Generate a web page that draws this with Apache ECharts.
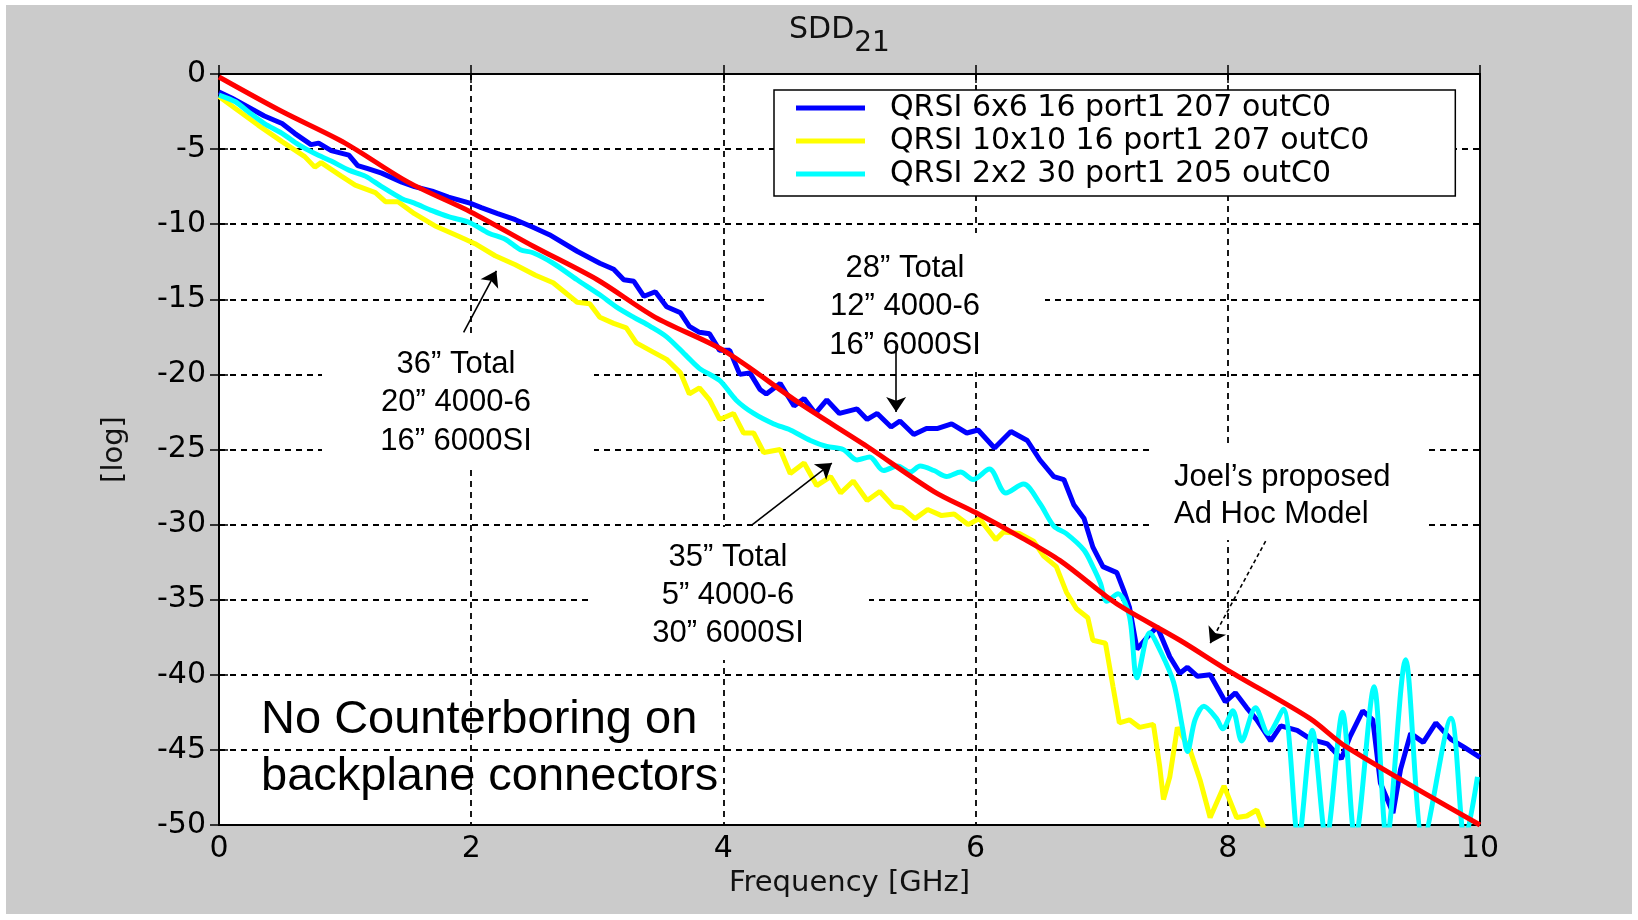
<!DOCTYPE html>
<html>
<head>
<meta charset="utf-8">
<title>SDD21</title>
<script src="https://cdn.jsdelivr.net/npm/echarts@6/dist/echarts.min.js"></script>
<style>
html, body { margin: 0; padding: 0; background: #fff; }
#chart { width: 1638px; height: 920px; }
</style>
</head>
<body>
<div id="chart"></div>
<script>
/* measured curves, frequency in GHz, loss in dB */
var seriesNames = ['QRSI 6x6 16 port1 207 outC0', 'QRSI 10x10 16 port1 207 outC0', 'QRSI 2x2 30 port1 205 outC0'];
var xTicks = [0, 2, 4, 6, 8, 10];
var yTicks = [-50, -45, -40, -35, -30, -25, -20, -15, -10, -5, 0];

var blueFreq = [0.00,0.10,0.23,0.36,0.50,0.60,0.73,0.79,0.89,1.03,1.10,1.18,1.29,1.45,1.55,1.69,1.82,1.99,2.08,2.21,2.35,2.49,2.62,2.84,3.02,3.13,3.21,3.29,3.37,3.46,3.55,3.66,3.73,3.81,3.89,3.97,4.05,4.13,4.21,4.29,4.34,4.45,4.56,4.64,4.73,4.82,4.92,5.06,5.14,5.22,5.33,5.40,5.51,5.61,5.70,5.81,5.93,6.02,6.15,6.28,6.41,6.51,6.62,6.70,6.78,6.86,6.93,7.01,7.12,7.18,7.22,7.28,7.36,7.44,7.54,7.62,7.68,7.76,7.86,7.98,8.06,8.15,8.23,8.34,8.42,8.55,8.66,8.79,8.90,8.97,9.07,9.15,9.21,9.31,9.37,9.45,9.55,9.65,9.77,9.87,10.0];
var blueLoss = [-1.2,-1.6,-2.2,-2.8,-3.3,-3.95,-4.7,-4.6,-5.1,-5.4,-6.1,-6.3,-6.6,-7.2,-7.5,-7.8,-8.2,-8.6,-8.9,-9.3,-9.7,-10.2,-10.7,-11.8,-12.6,-13.0,-13.7,-13.8,-14.8,-14.5,-15.5,-15.9,-16.8,-17.2,-17.3,-18.4,-18.4,-20.0,-19.9,-21.0,-21.3,-20.6,-22.1,-21.6,-22.6,-21.7,-22.6,-22.3,-23.0,-22.6,-23.5,-23.1,-24.0,-23.6,-23.6,-23.3,-23.9,-23.7,-24.9,-23.8,-24.4,-25.7,-26.8,-27.0,-28.7,-29.6,-31.5,-32.8,-33.2,-34.5,-35.5,-38.3,-37.5,-36.8,-38.8,-39.9,-39.5,-40.1,-40.0,-41.8,-41.2,-42.2,-43.0,-44.4,-43.4,-43.7,-44.3,-44.6,-45.6,-44.1,-42.4,-43.0,-47.2,-49.2,-46.3,-43.9,-44.5,-43.2,-44.3,-44.8,-45.5];

var yellowFreq = [0.00,0.13,0.31,0.50,0.68,0.76,0.81,0.97,1.08,1.24,1.32,1.42,1.55,1.71,1.90,2.03,2.19,2.35,2.51,2.65,2.84,2.94,3.02,3.13,3.23,3.31,3.44,3.55,3.66,3.73,3.81,3.89,3.97,4.08,4.16,4.24,4.32,4.45,4.53,4.64,4.74,4.85,4.93,5.03,5.14,5.24,5.35,5.42,5.52,5.62,5.73,5.83,5.94,6.03,6.16,6.22,6.35,6.46,6.54,6.64,6.72,6.80,6.89,6.93,7.03,7.09,7.14,7.22,7.30,7.41,7.46,7.49,7.54,7.60,7.70,7.78,7.86,7.97,8.07,8.15,8.23,8.30,8.34];
var yellowLoss = [-1.5,-2.3,-3.4,-4.5,-5.5,-6.2,-5.9,-6.8,-7.4,-7.9,-8.5,-8.5,-9.3,-10.1,-10.8,-11.3,-12.1,-12.7,-13.4,-13.9,-15.2,-15.3,-16.2,-16.6,-16.9,-17.9,-18.5,-19.0,-19.9,-21.3,-20.9,-21.7,-23.0,-22.6,-23.9,-23.9,-25.2,-25.0,-26.6,-25.9,-27.4,-26.8,-27.9,-27.1,-28.4,-27.8,-28.8,-28.9,-29.6,-29.0,-29.4,-29.3,-30.0,-29.6,-31.0,-30.5,-30.6,-31.1,-32.1,-32.8,-34.5,-35.6,-36.2,-37.7,-37.9,-40.8,-43.2,-43.0,-43.5,-43.3,-46.1,-48.3,-46.8,-43.5,-45.0,-47.0,-49.5,-47.4,-49.5,-49.4,-49.0,-50.5,-51.5];

var cyanFreq = [0.00,0.13,0.23,0.36,0.50,0.63,0.76,0.89,1.03,1.16,1.29,1.45,1.55,1.69,1.82,1.99,2.14,2.27,2.39,2.49,2.65,2.84,3.02,3.15,3.29,3.42,3.55,3.71,3.81,3.97,4.10,4.24,4.40,4.53,4.69,4.82,4.95,5.06,5.16,5.27,5.38,5.48,5.56,5.67,5.77,5.88,5.98,6.11,6.24,6.38,6.51,6.62,6.72,6.86,6.93,6.99,7.04,7.13,7.22,7.28,7.38,7.47,7.57,7.64,7.68,7.74,7.81,7.91,7.96,8.04,8.11,8.22,8.32,8.44,8.56,8.67,8.78,8.91,9.01,9.16,9.26,9.41,9.55,9.77,9.88,9.98];
var cyanLoss = [-1.4,-1.85,-2.5,-3.3,-3.95,-4.7,-5.3,-5.8,-6.4,-6.8,-7.5,-8.3,-8.6,-9.1,-9.5,-9.9,-10.6,-11.0,-11.7,-11.9,-12.6,-13.7,-14.7,-15.5,-16.2,-16.8,-17.5,-18.8,-19.6,-20.4,-21.7,-22.6,-23.3,-23.7,-24.4,-24.8,-25.0,-25.7,-25.5,-26.4,-26.1,-26.5,-26.1,-26.4,-26.8,-26.5,-27.0,-26.3,-27.9,-27.3,-28.6,-30.1,-30.6,-31.7,-32.8,-33.9,-35.1,-34.6,-36.1,-40.2,-37.2,-38.5,-40.5,-43.5,-45.1,-43.0,-42.1,-42.9,-43.6,-42.4,-44.4,-42.2,-43.9,-42.3,-51,-43.7,-51,-42.5,-51,-40.8,-51,-39.0,-51,-42.9,-51,-46.8];

/* Joel's proposed ad hoc model */
var modelFreq = [0, 0.5, 1, 1.5, 2, 2.5, 3, 3.46, 4, 4.6, 5.14, 5.67, 6, 6.37, 6.67, 7.04, 7.2, 7.62, 8, 8.65, 8.94, 10];
var modelLoss = [-0.2, -2.5, -4.6, -7.2, -9.2, -11.5, -13.7, -16.2, -18.4, -21.9, -24.8, -27.8, -29.2, -30.9, -32.4, -34.8, -35.7, -37.7, -39.7, -42.9, -44.8, -50];

/* annotation arrows, [GHz, dB] */
var arrowTails = [[1.94, -17.2], [5.37, -18.1], [4.23, -30.0], [8.30, -31.1]];
var arrowHeads = [[2.20, -13.1], [5.37, -22.5], [4.86, -25.9], [7.86, -37.9]];

function pairs(xs, ys) {
	var out = [];
	var n = Math.min(xs.length, ys.length);
	for (var i = 0; i < n; i++) {
		out.push([xs[i], ys[i]]);
	}
	return out;
}

var matFont = 'DejaVu Sans';
var pptFont = 'Liberation Sans, Arial, sans-serif';

/* white note boxes drawn over the grid */
function note(x, y, w, h, lines, tx, ty, align, size, lh, bg) {
	var children = [];
	if (bg) {
		children.push({
			type : 'rect',
			shape : { x : x, y : y, width : w, height : h },
			style : { fill : '#ffffff' },
			z : 1
		});
	}
	children.push({
		type : 'text',
		x : tx,
		y : ty,
		style : {
			text : lines.join('\n'),
			fill : '#000',
			fontSize : size,
			fontFamily : pptFont,
			lineHeight : lh,
			align : align,
			verticalAlign : 'top'
		},
		z : 1
	});
	return { type : 'group', children : children };
}

var arrowData = arrowTails.map(function(t, i) {
	var start = { coord : t };
	if (i === 3) {
		start.lineStyle = { type : [4, 3] };
	}
	return [ start, { coord : arrowHeads[i] } ];
});

function lineSeries(name, data, color, smooth) {
	return {
		name : name,
		type : 'line',
		data : data,
		showSymbol : false,
		symbol : 'none',
		smooth : smooth,
		clip : true,
		lineStyle : { color : color, width : 5 },
		itemStyle : { color : color },
		silent : true
	};
}

var gridLine = { color : '#000', width : 1.8, type : [6, 5] };

var chart = echarts.init(document.getElementById('chart'));

var option = {
	animation : false,
	backgroundColor : '#ffffff',
	title : {
		left : 784,
		top : 17,
		text : '{m|SDD}{s|21}',
		textStyle : {
			rich : {
				m : { fontSize : 30, fontWeight : 'normal', fontFamily : matFont, color : '#111', lineHeight : 30, padding : [0, 0, 14, 0] },
				s : { fontSize : 28, fontWeight : 'normal', fontFamily : matFont, color : '#111', lineHeight : 30, padding : [14, 0, 0, 0] }
			}
		}
	},
	legend : {
		left : 774,
		top : 90,
		orient : 'vertical',
		icon : 'rect',
		itemWidth : 69,
		itemHeight : 5,
		itemGap : 3,
		padding : [3, 86, 7, 22],
		borderColor : '#000',
		borderWidth : 1.5,
		backgroundColor : '#ffffff',
		selectedMode : false,
		textStyle : {
			color : '#000',
			fontSize : 30,
			fontFamily : matFont,
			lineHeight : 30,
			padding : [0, 0, 0, 20]
		},
		data : seriesNames
	},
	grid : {
		left : 219,
		top : 74,
		width : 1261,
		height : 751,
		show : true,
		backgroundColor : '#ffffff',
		borderColor : '#000',
		borderWidth : 2
	},
	xAxis : [ {
		type : 'value',
		min : xTicks[0],
		max : xTicks[xTicks.length - 1],
		interval : 2,
		position : 'bottom',
		name : 'Frequency [GHz]',
		nameLocation : 'middle',
		nameGap : 44,
		nameTextStyle : { color : '#111', fontSize : 29, fontFamily : matFont },
		axisLine : { show : true, lineStyle : { color : '#000', width : 2 } },
		axisTick : { show : true, inside : true, length : 9, lineStyle : { color : '#000', width : 1.5 } },
		axisLabel : { color : '#000', fontSize : 30, fontFamily : matFont, margin : 9 },
		splitLine : { show : true, lineStyle : gridLine }
	}, {
		type : 'value',
		min : xTicks[0],
		max : xTicks[xTicks.length - 1],
		interval : 2,
		position : 'top',
		axisLine : { show : true, lineStyle : { color : '#000', width : 2 } },
		axisTick : { show : true, inside : true, length : 9, lineStyle : { color : '#000', width : 1.5 } },
		axisLabel : { show : false },
		splitLine : { show : false }
	} ],
	yAxis : [ {
		type : 'value',
		min : yTicks[0],
		max : yTicks[yTicks.length - 1],
		interval : 5,
		position : 'left',
		name : '[log]',
		nameLocation : 'middle',
		nameGap : 90,
		nameTextStyle : { color : '#111', fontSize : 29, fontFamily : matFont },
		axisLine : { show : true, lineStyle : { color : '#000', width : 2 } },
		axisTick : { show : true, inside : true, length : 9, lineStyle : { color : '#000', width : 1.5 } },
		axisLabel : { color : '#000', fontSize : 30, fontFamily : matFont, margin : 13 },
		splitLine : { show : true, lineStyle : gridLine }
	}, {
		type : 'value',
		min : yTicks[0],
		max : yTicks[yTicks.length - 1],
		interval : 5,
		position : 'right',
		axisLine : { show : true, lineStyle : { color : '#000', width : 2 } },
		axisTick : { show : true, inside : true, length : 9, lineStyle : { color : '#000', width : 1.5 } },
		axisLabel : { show : false },
		splitLine : { show : false }
	} ],
	graphic : [
		{ type : 'rect', shape : { x : 6, y : 5, width : 1626, height : 909 }, style : { fill : '#cbcbcb' }, z : -10 },
		note(322, 333, 272, 135, ['36\u201d Total', '20\u201d 4000-6', '16\u201d 6000SI'], 456, 345, 'center', 31, 38.5, true),
		note(768, 233, 277, 139, ['28\u201d Total', '12\u201d 4000-6', '16\u201d 6000SI'], 905, 249, 'center', 31, 38.5, true),
		note(588, 527, 281, 133, ['35\u201d Total', '5\u201d 4000-6', '30\u201d 6000SI'], 728, 538, 'center', 31, 38, true),
		note(1150, 443, 275, 97, ['Joel\u2019s proposed', 'Ad Hoc Model'], 1174, 459, 'left', 31, 37, true),
		note(0, 0, 0, 0, ['No Counterboring on', 'backplane connectors'], 261, 692, 'left', 47, 57, false)
	],
	series : [
		lineSeries(seriesNames[0], pairs(blueFreq, blueLoss), '#0000ff', false),
		lineSeries(seriesNames[1], pairs(yellowFreq, yellowLoss), '#ffff00', false),
		lineSeries(seriesNames[2], pairs(cyanFreq, cyanLoss), '#00ffff', 0.3),
		{
			name : 'Ad Hoc Model',
			type : 'line',
			data : pairs(modelFreq, modelLoss),
			showSymbol : false,
			symbol : 'none',
			smooth : 0.3,
			lineStyle : { color : '#ff0000', width : 5 },
			itemStyle : { color : '#ff0000' },
			silent : true,
			markLine : {
				silent : true,
				animation : false,
				symbol : [ 'none', 'arrow' ],
				symbolSize : 15,
				label : { show : false },
				lineStyle : { color : '#000', width : 1.6, type : 'solid' },
				emphasis : { disabled : true },
				data : arrowData
			}
		}
	]
};

chart.setOption(option);
</script>
</body>
</html>
